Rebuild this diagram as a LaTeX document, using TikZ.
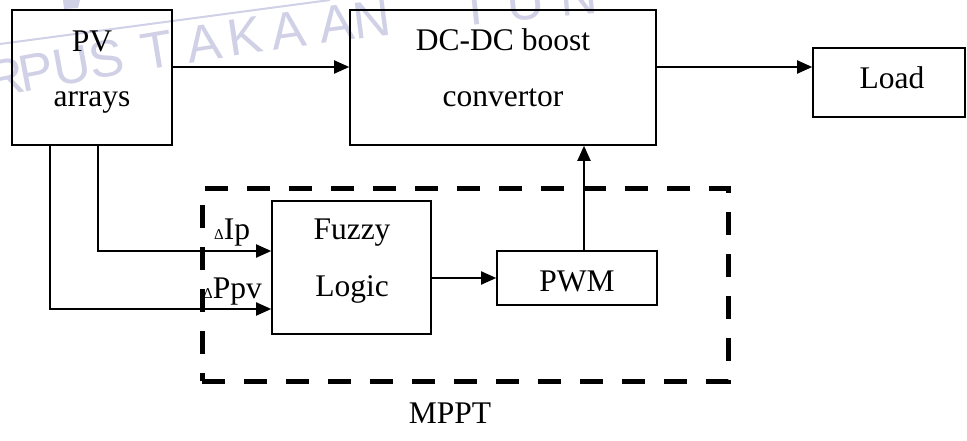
\documentclass[tikz,border=0pt]{standalone}
\usepackage{fontspec}
\setmainfont{Liberation Serif}
\newfontfamily\wmfont{Liberation Sans}
\usetikzlibrary{arrows.meta}
\definecolor{wmgray}{RGB}{208,208,230}
\begin{document}
\begin{tikzpicture}[x=1pt,y=-1pt,
  blk/.style={draw, line width=1.6pt, inner sep=0pt},
  txt/.style={font=\fontsize{31.5}{31.5}\selectfont, anchor=base, inner sep=0pt},
  flow/.style={line width=1.9pt, -{Triangle[length=15pt,width=13pt]}},
  dashbox/.style={draw, line width=5pt, dash pattern=on 23pt off 19pt, inner sep=0pt},
  wm/.style={text=wmgray, font=\wmfont\fontsize{52}{52}\selectfont, anchor=base, inner sep=0pt},
]
\useasboundingbox (0,0) rectangle (967,441);

% faint library watermark behind the diagram, letters set along a shallow arc
\begin{scope}
  \clip (0,0) rectangle (967,441);
  \draw[wmgray, line width=2pt] (0,44) -- (330,0);
  \fill[wmgray] (63,0) -- (80,0) -- (78,8) -- (64,9) -- cycle;
  \foreach \ch/\cx [count=\i] in {R/9,P/40,U/75,S/110,T/160,A/207,K/248,A/291,A/339,N/374,T/477,U/527,N/580}
    \node[wm, rotate={atan(0.1957-\cx/5371)}] (wm\i)
      at (\cx,{97.16-0.1957*\cx+(\cx/103.64)*(\cx/103.64)}) {\ch};
\end{scope}

% blocks
\node[blk, minimum width=160, minimum height=135] (pv) at (92,77.5) {};
\node[blk, minimum width=306, minimum height=135] (dc) at (503,77.5) {};
\node[blk, minimum width=152, minimum height=69] (load) at (889,82.5) {};
\node[blk, minimum width=159, minimum height=133] (fuzzy) at (351.5,267.5) {};
\node[blk, minimum width=160, minimum height=54] (pwm) at (577,278) {};

% block texts
\node[txt] (pv1) at (92,52) {PV};
\node[txt] (pv2) at (92,107) {arrays};
\node[txt] (dc1) at (503,51) {DC-DC boost};
\node[txt] (dc2) at (503,107) {convertor};
\node[txt] (ld) at (892,89) {Load};
\node[txt] (fz1) at (352,240) {Fuzzy};
\node[txt] (fz2) at (352,296) {Logic};
\node[txt] (pw) at (577,291) {PWM};

% MPPT controller frame
\node[dashbox, minimum width=526, minimum height=192] (mppt) at (465,285) {};
\node[txt] (mpptlbl) at (450,423) {MPPT};

% input labels
\node[txt, anchor=base west] (dip) at (214,239) {{\fontsize{15}{15}\selectfont Δ}Ip};
\node[txt, anchor=base west] (dppv) at (203,298) {{\fontsize{15}{15}\selectfont Δ}Ppv};

% connectors
\coordinate (toprow) at (0,67);
\coordinate (rowI) at (0,251);
\coordinate (rowP) at (0,309);
\coordinate (tapI) at (98,0);
\coordinate (tapP) at (50,0);
\draw[flow] (pv.east |- toprow) -- (dc.west |- toprow);
\draw[flow] (dc.east |- toprow) -- (load.west |- toprow);
\draw[flow] (fuzzy.east |- pwm.west) -- (pwm.west);
\draw[flow] ([xshift=7pt]pwm.north) -- ([xshift=7pt]pwm.north |- dc.south);
\draw[flow] (pv.south -| tapI) |- (fuzzy.west |- rowI);
\draw[flow] (pv.south -| tapP) |- (fuzzy.west |- rowP);
\end{tikzpicture}
\end{document}
